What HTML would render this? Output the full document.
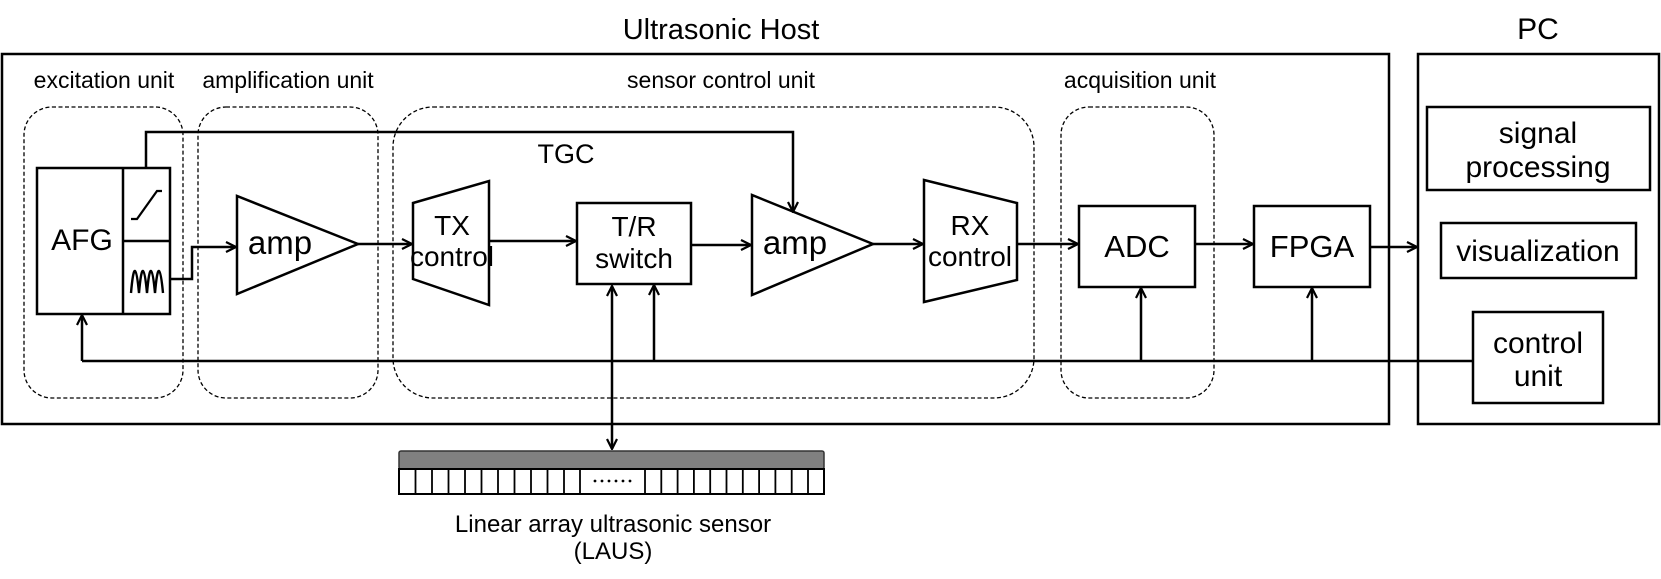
<!DOCTYPE html>
<html><head><meta charset="utf-8"><style>
html,body{margin:0;padding:0;background:#fff;}
svg{display:block;}
text{font-family:"Liberation Sans",Arial,sans-serif;fill:#000;font-weight:normal;stroke:none;}
</style></head><body>
<svg width="1661" height="579" viewBox="0 0 1661 579" xmlns="http://www.w3.org/2000/svg">
<defs>
<marker id="a" viewBox="0 0 12 12" refX="11" refY="6" markerWidth="12" markerHeight="12" markerUnits="userSpaceOnUse" orient="auto-start-reverse">
<path d="M1,1 L11,6 L1,11" fill="none" stroke="#000" stroke-width="2.2"/>
</marker>
</defs>
<g fill="none" stroke="#000">
<rect x="2" y="54" width="1387" height="370" stroke-width="2.5"/>
<rect x="1418" y="54" width="241" height="370" stroke-width="2.5"/>
<g stroke-width="1.3" stroke-dasharray="4,2.5">
<rect x="24" y="107" width="159" height="291" rx="28"/>
<rect x="198" y="107" width="180" height="291" rx="28"/>
<rect x="393" y="107" width="641" height="291" rx="40"/>
<rect x="1061" y="107" width="153" height="291" rx="28"/>
</g>
<g stroke-width="2.5">
<rect x="37" y="168" width="133" height="146"/>
<line x1="123" y1="168" x2="123" y2="314"/>
<line x1="123" y1="241" x2="170" y2="241"/>
<polyline points="131,219 137,219 157,191 162,191" stroke-width="2.2"/>
<path d="M131,293 Q133,270 135,271 Q137,272 139,293 Q141,270 143,271 Q145,272 147,293 Q149,270 151,271 Q153,272 155,293 Q157,270 159,271 Q161,272 163,293" stroke-width="2.4"/>
<polygon points="237,196 237,294 358,244"/>
<polygon points="413,203 489,181 489,305 413,279"/>
<rect x="577" y="203" width="114" height="81"/>
<polygon points="752,195 752,295 873,244"/>
<polygon points="924,180 1017,203 1017,280 924,302"/>
<rect x="1079" y="206" width="116" height="81"/>
<rect x="1254" y="206" width="116" height="81"/>
<rect x="1427" y="107" width="223" height="83"/>
<rect x="1441" y="223" width="195" height="55"/>
<rect x="1473" y="312" width="130" height="91"/>
<polyline points="170,279 192,279 192,247 236,247" marker-end="url(#a)"/>
<line x1="358" y1="244" x2="412" y2="244" marker-end="url(#a)"/>
<line x1="489" y1="241" x2="576" y2="241" marker-end="url(#a)"/>
<line x1="691" y1="245" x2="751" y2="245" marker-end="url(#a)"/>
<line x1="873" y1="244" x2="923" y2="244" marker-end="url(#a)"/>
<line x1="1017" y1="244" x2="1078" y2="244" marker-end="url(#a)"/>
<line x1="1195" y1="244" x2="1253" y2="244" marker-end="url(#a)"/>
<line x1="1370" y1="247" x2="1417" y2="247" marker-end="url(#a)"/>
<polyline points="146,168 146,132 793,132 793,212" marker-end="url(#a)"/>
<line x1="1473" y1="361" x2="82" y2="361"/>
<line x1="82" y1="361" x2="82" y2="315" marker-end="url(#a)"/>
<line x1="654" y1="361" x2="654" y2="285" marker-end="url(#a)"/>
<line x1="1141" y1="361" x2="1141" y2="288" marker-end="url(#a)"/>
<line x1="1312" y1="361" x2="1312" y2="288" marker-end="url(#a)"/>
<line x1="612" y1="286" x2="612" y2="449" marker-start="url(#a)" marker-end="url(#a)"/>
</g>
</g>
<rect x="399" y="451" width="425" height="18" fill="#808080" stroke="#333" stroke-width="1.5" rx="2"/>
<rect x="399" y="469" width="425" height="25" fill="#fff" stroke="#000" stroke-width="2"/>
<g stroke="#000" stroke-width="1.8">
<line x1="415.5" y1="469" x2="415.5" y2="494"/><line x1="432" y1="469" x2="432" y2="494"/>
<line x1="448.5" y1="469" x2="448.5" y2="494"/><line x1="465" y1="469" x2="465" y2="494"/>
<line x1="481.5" y1="469" x2="481.5" y2="494"/><line x1="498" y1="469" x2="498" y2="494"/>
<line x1="514.5" y1="469" x2="514.5" y2="494"/><line x1="531" y1="469" x2="531" y2="494"/>
<line x1="547.5" y1="469" x2="547.5" y2="494"/><line x1="564" y1="469" x2="564" y2="494"/>
<line x1="580" y1="469" x2="580" y2="494"/><line x1="645" y1="469" x2="645" y2="494"/>
<line x1="661.3" y1="469" x2="661.3" y2="494"/><line x1="677.6" y1="469" x2="677.6" y2="494"/>
<line x1="693.9" y1="469" x2="693.9" y2="494"/><line x1="710.2" y1="469" x2="710.2" y2="494"/>
<line x1="726.5" y1="469" x2="726.5" y2="494"/><line x1="742.8" y1="469" x2="742.8" y2="494"/>
<line x1="759.1" y1="469" x2="759.1" y2="494"/><line x1="775.4" y1="469" x2="775.4" y2="494"/>
<line x1="791.7" y1="469" x2="791.7" y2="494"/><line x1="808" y1="469" x2="808" y2="494"/>
</g>
<g fill="#000"><circle cx="595" cy="481" r="1.4"/><circle cx="602" cy="481" r="1.4"/><circle cx="609" cy="481" r="1.4"/><circle cx="616" cy="481" r="1.4"/><circle cx="623" cy="481" r="1.4"/><circle cx="630" cy="481" r="1.4"/></g>
<g text-anchor="middle">
<text x="721" y="39" font-size="29">Ultrasonic Host</text>
<text x="1538" y="39" font-size="30">PC</text>
<text x="104" y="88" font-size="23">excitation unit</text>
<text x="288" y="88" font-size="23">amplification unit</text>
<text x="721" y="88" font-size="23">sensor control unit</text>
<text x="1140" y="88" font-size="23">acquisition unit</text>
<text x="566" y="163" font-size="27">TGC</text>
<text x="82" y="250" font-size="30">AFG</text>
<text x="280" y="254" font-size="33">amp</text>
<text x="452" y="235" font-size="28">TX</text>
<text x="452" y="266" font-size="28">control</text>
<text x="634" y="236" font-size="28">T/R</text>
<text x="634" y="268" font-size="28">switch</text>
<text x="795" y="254" font-size="33">amp</text>
<text x="970" y="235" font-size="28">RX</text>
<text x="970" y="266" font-size="28">control</text>
<text x="1137" y="257" font-size="31">ADC</text>
<text x="1312" y="257" font-size="31">FPGA</text>
<text x="1538" y="143" font-size="30">signal</text>
<text x="1538" y="177" font-size="30">processing</text>
<text x="1538" y="261" font-size="30">visualization</text>
<text x="1538" y="353" font-size="30">control</text>
<text x="1538" y="386" font-size="30">unit</text>
<text x="613" y="532" font-size="24">Linear array ultrasonic sensor</text>
<text x="613" y="559" font-size="24">(LAUS)</text>
</g>
</svg>
</body></html>
